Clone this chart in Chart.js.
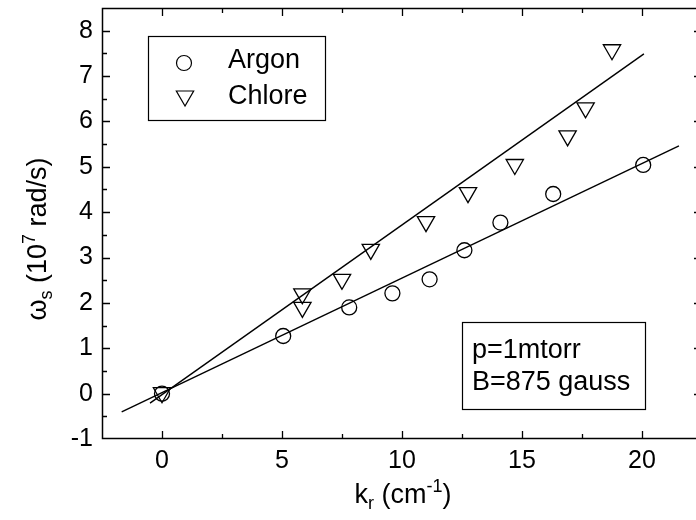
<!DOCTYPE html>
<html>
<head>
<meta charset="utf-8">
<script src="https://cdn.jsdelivr.net/npm/chart.js@4.4.1/dist/chart.umd.min.js"></script>
<style>
html,body{margin:0;padding:0;background:#fff;overflow:hidden;}
#wrap{width:696px;height:520px;overflow:hidden;}
canvas{display:block;}
</style>
</head>
<body>
<div id="wrap"><canvas id="c" width="702" height="520" style="width:702px;height:520px"></canvas></div>
<script>
// ---- data ----
const argonK  = [0, 5.05, 7.8, 9.6, 11.15, 12.6, 14.1, 16.3, 20.05];
const argonW  = [0, 1.27, 1.9, 2.21, 2.52, 3.16, 3.77, 4.40, 5.04];
const chloreK = [0, 5.85, 5.85, 7.5, 8.7, 11.0, 12.75, 14.7, 16.9, 17.65, 18.75];
const chloreW = [0.02, 2.2, 1.9, 2.52, 3.18, 3.79, 4.43, 5.05, 5.68, 6.3, 7.58];
const argonFitK  = [-1.68, 21.54];
const argonFitW  = [-0.40, 5.46];
const chloreFitK = [-0.5, 20.08];
const chloreFitW = [-0.21, 7.49];
const xTickLabels = [0, 5, 10, 15, 20];
const yTickLabels = [-1, 0, 1, 2, 3, 4, 5, 6, 7, 8];
const legendLabels = ['Argon', 'Chlore'];
const noteLines = ['p=1mtorr', 'B=875 gauss'];

const pts = (xs, ys) => xs.map((x, i) => ({x: x, y: ys[i]}));
const FONT = '"Liberation Sans", Arial, Helvetica, sans-serif';

const decor = {
  id: 'decor',
  afterDraw(chart) {
    const ctx = chart.ctx, a = chart.chartArea;
    const xs = chart.scales.x, ys = chart.scales.y;
    ctx.save();
    ctx.strokeStyle = '#000';
    ctx.fillStyle = '#000';
    // frame
    ctx.lineWidth = 1.5;
    ctx.strokeRect(a.left + 0.5, a.top + 0.5, a.right - a.left - 1, a.bottom - a.top - 1);
    // ticks (inward, all sides)
    ctx.lineWidth = 1.3;
    ctx.beginPath();
    xs.ticks.forEach(t => {
      const v = t.value;
      if (v <= xs.min || v >= xs.max) return;
      const px = Math.round(xs.getPixelForValue(v)) + 0.5;
      const len = xTickLabels.includes(v) ? 8 : 5;
      ctx.moveTo(px, a.bottom); ctx.lineTo(px, a.bottom - len);
      ctx.moveTo(px, a.top); ctx.lineTo(px, a.top + len);
    });
    ys.ticks.forEach(t => {
      const v = t.value;
      if (v <= ys.min || v >= ys.max) return;
      const py = Math.round(ys.getPixelForValue(v)) + 0.5;
      const len = yTickLabels.includes(v) ? 8 : 5;
      ctx.moveTo(a.left, py); ctx.lineTo(a.left + len, py);
      ctx.moveTo(a.right, py); ctx.lineTo(a.right - len, py);
    });
    ctx.stroke();

    // legend box
    ctx.lineWidth = 1.2;
    ctx.strokeRect(148.5, 36.5, 177, 84);
    ctx.beginPath();
    ctx.arc(184, 63, 7.5, 0, Math.PI * 2);
    ctx.stroke();
    // down triangle
    const r = 10, cx = 185, cy = 96;
    ctx.beginPath();
    for (let k = 0; k < 3; k++) {
      const ang = Math.PI + k * 2 * Math.PI / 3;
      const px = cx + Math.sin(ang) * r, py = cy - Math.cos(ang) * r;
      if (k === 0) ctx.moveTo(px, py); else ctx.lineTo(px, py);
    }
    ctx.closePath();
    ctx.stroke();
    ctx.font = '27px ' + FONT;
    ctx.textBaseline = 'alphabetic';
    ctx.textAlign = 'left';
    ctx.fillText(legendLabels[0], 228, 68);
    ctx.fillText(legendLabels[1], 228, 104);

    // note box
    ctx.strokeRect(462.5, 322.5, 183, 87);
    ctx.font = '27px ' + FONT;
    ctx.fillText(noteLines[0], 472, 358);
    ctx.fillText(noteLines[1], 472, 390);

    // x title: k_r (cm^-1)
    const big = '27px ' + FONT, small = '18px ' + FONT;
    const xParts = [
      {t: 'k', f: big, dy: 0},
      {t: 'r', f: small, dy: 6},
      {t: ' (cm', f: big, dy: 0},
      {t: '-1', f: small, dy: -11},
      {t: ')', f: big, dy: 0}
    ];
    let tw = 0;
    xParts.forEach(p => { ctx.font = p.f; p.w = ctx.measureText(p.t).width; tw += p.w; });
    let x0 = 403 - tw / 2;
    xParts.forEach(p => { ctx.font = p.f; ctx.fillText(p.t, x0, 503 + p.dy); x0 += p.w; });

    // y title: ω_s (10^7 rad/s)
    const yParts = [
      {t: 'ω', f: big, dy: 0},
      {t: 's', f: small, dy: 6},
      {t: ' (10', f: big, dy: 0},
      {t: '7', f: small, dy: -11},
      {t: ' rad/s)', f: big, dy: 0}
    ];
    tw = 0;
    yParts.forEach(p => { ctx.font = p.f; p.w = ctx.measureText(p.t).width; tw += p.w; });
    ctx.translate(46, 239 + tw / 2);
    ctx.rotate(-Math.PI / 2);
    let s0 = 0;
    yParts.forEach(p => { ctx.font = p.f; ctx.fillText(p.t, s0, p.dy); s0 += p.w; });
    ctx.restore();
  }
};

const dropEnds = s => { s.ticks = s.ticks.filter(t => t.value < s.max && (s.axis === 'y' || t.value > s.min)); };
const noPad = s => { s.paddingTop = 0; s.paddingBottom = 0; s.paddingLeft = 0; s.paddingRight = 0; };

new Chart(document.getElementById('c'), {
  type: 'scatter',
  data: {
    datasets: [
      {label: 'Argon fit', data: pts(argonFitK, argonFitW), showLine: true, borderColor: '#000', borderWidth: 1.4, pointRadius: 0, fill: false},
      {label: 'Chlore fit', data: pts(chloreFitK, chloreFitW), showLine: true, borderColor: '#000', borderWidth: 1.4, pointRadius: 0, fill: false},
      {label: legendLabels[0], data: pts(argonK, argonW), pointStyle: 'circle', pointRadius: 7.5, borderColor: '#000', backgroundColor: 'transparent', borderWidth: 1.3},
      {label: legendLabels[1], data: pts(chloreK, chloreW), pointStyle: 'triangle', pointRotation: 180, pointRadius: 10, borderColor: '#000', backgroundColor: 'transparent', borderWidth: 1.3}
    ]
  },
  options: {
    responsive: false,
    animation: false,
    devicePixelRatio: 1,
    layout: {autoPadding: false, padding: {top: 8, right: 0, left: 0, bottom: 0}},
    plugins: {legend: {display: false}, tooltip: {enabled: false}},
    scales: {
      x: {
        type: 'linear', min: -2.5, max: 22.5,
        grid: {display: false, drawTicks: false},
        border: {display: false},
        ticks: {
          stepSize: 2.5, autoSkip: false, maxRotation: 0, padding: 7,
          color: '#000', font: {family: FONT, size: 25},
          callback: v => xTickLabels.includes(v) ? String(v) : ''
        },
        afterBuildTicks: dropEnds,
        afterFit: s => { s.height = 81; noPad(s); }
      },
      y: {
        type: 'linear', min: -1, max: 8.5,
        grid: {display: false, drawTicks: false},
        border: {display: false},
        ticks: {
          stepSize: 0.5, autoSkip: false, padding: 9,
          color: '#000', font: {family: FONT, size: 25},
          callback: v => yTickLabels.includes(v) ? String(v) : ''
        },
        afterBuildTicks: dropEnds,
        afterFit: s => { s.width = 102; noPad(s); }
      }
    }
  },
  plugins: [decor]
});
</script>
</body>
</html>
